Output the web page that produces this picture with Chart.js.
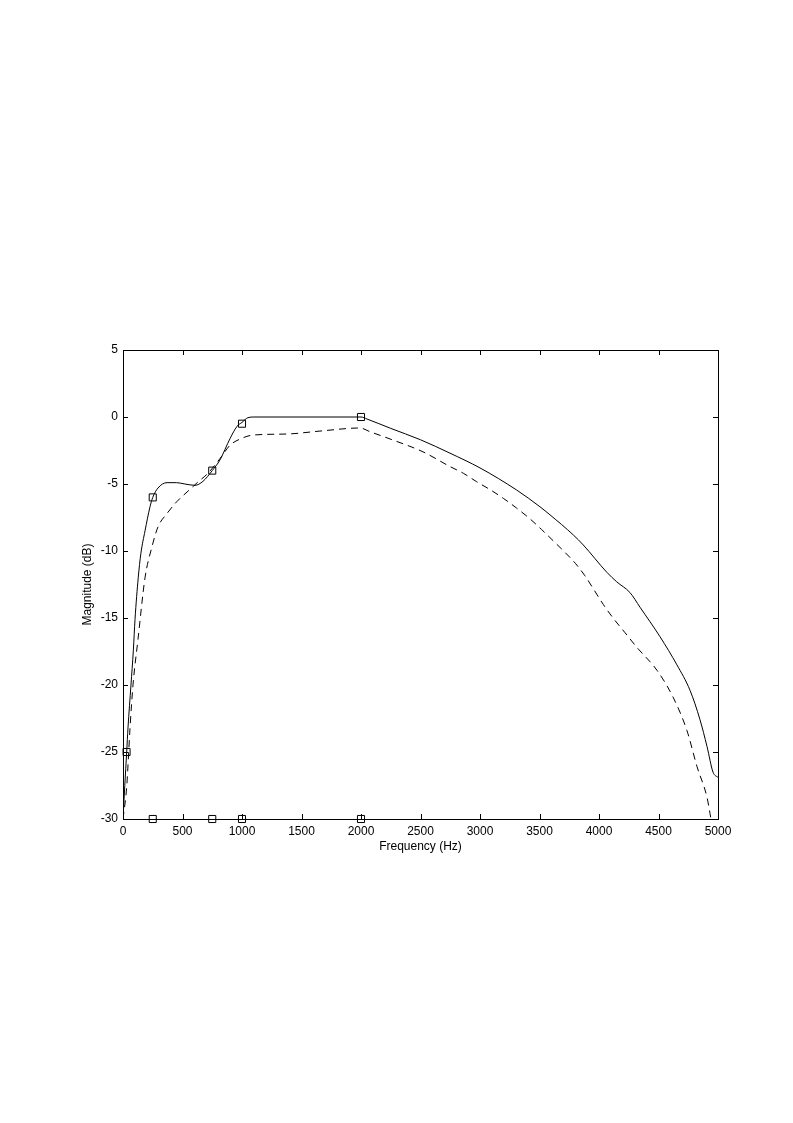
<!DOCTYPE html>
<html>
<head>
<meta charset="utf-8">
<script src="https://cdn.jsdelivr.net/npm/chart.js@4"></script>
<style>
    html, body { margin: 0; padding: 0; background: #fff; }
    #wrap { width: 793px; height: 1123px; position: relative; }
</style>
</head>
<body>
<div id="wrap"><canvas id="magChart"></canvas></div>
<script>
// Réponse en fréquence
const solidFreq = [0, 15, 31, 42, 67, 87, 101, 128, 150, 185, 227, 250, 294, 370, 450, 520, 605, 672, 750, 815, 900, 958, 1000, 1050, 1100, 2000, 2050, 2250, 2500, 2748, 3000, 3308, 3504, 3588, 3784, 3868, 4067, 4149, 4260, 4345, 4513, 4655, 4765, 4849, 4908, 4958, 5000];
const solidMag = [-30, -27.5, -25, -23.2, -20, -17.4, -15.1, -12.0, -10.2, -8.5, -6.7, -6.0, -5.3, -4.9, -4.9, -5.0, -5.1, -4.8, -4.0, -3.2, -1.6, -0.7, -0.4, -0.05, 0, 0, -0.15, -0.85, -1.7, -2.7, -3.8, -5.45, -6.7, -7.3, -8.8, -9.55, -11.6, -12.3, -13.1, -14.2, -16.4, -18.5, -20.4, -22.6, -24.6, -26.5, -26.9];

const dashFreq = [0, 31, 59, 84, 126, 185, 243, 294, 370, 454, 538, 630, 714, 815, 900, 983, 1092, 1378, 1655, 1992, 2076, 2244, 2521, 2748, 2860, 2972, 3090, 3196, 3308, 3420, 3518, 3622, 3714, 3804, 3882, 3958, 4037, 4118, 4219, 4319, 4487, 4622, 4739, 4824, 4908, 4933, 4960];
const dashMag = [-30, -27.6, -23.2, -20, -16.6, -12.0, -9.7, -8.2, -7.2, -6.3, -5.6, -4.85, -4.2, -3.1, -2.1, -1.65, -1.35, -1.27, -1.05, -0.82, -1.1, -1.64, -2.6, -3.7, -4.2, -4.83, -5.45, -6.07, -6.8, -7.6, -8.4, -9.3, -10.1, -10.95, -11.85, -12.9, -14.0, -15.0, -16.1, -17.2, -18.9, -20.9, -23.4, -26.1, -28.4, -29.6, -31];

// Points de spécification (carrés)
const markFreq = [30, 250, 750, 1000, 2000, 250, 750, 1000, 2000];
const markMag = [-25, -6, -4, -0.5, 0, -30, -30, -30, -30];

const xTicks = [0, 500, 1000, 1500, 2000, 2500, 3000, 3500, 4000, 4500, 5000];
const yTicks = [5, 0, -5, -10, -15, -20, -25, -30];

const toPoints = (xs, ys) => xs.map((x, i) => ({ x: x, y: ys[i] }));

const fontSpec = { family: "'Liberation Sans', Arial, sans-serif", size: 12 };

// Cadre et graduations vers l'intérieur (style MATLAB)
const boxTicks = {
    id: 'boxTicks',
    afterDraw(chart) {
        const ctx = chart.ctx;
        const a = chart.chartArea;
        const len = 5;
        ctx.save();
        ctx.strokeStyle = '#000';
        ctx.lineWidth = 1;
        ctx.strokeRect(Math.round(a.left) + 0.5, Math.round(a.top) + 0.5,
            Math.round(a.right - a.left), Math.round(a.bottom - a.top));
        ctx.beginPath();
        chart.scales.x.ticks.forEach(t => {
            const px = Math.round(chart.scales.x.getPixelForValue(t.value)) + 0.5;
            ctx.moveTo(px, a.bottom); ctx.lineTo(px, a.bottom - len);
            ctx.moveTo(px, a.top); ctx.lineTo(px, a.top + len);
        });
        chart.scales.y.ticks.forEach(t => {
            const py = Math.round(chart.scales.y.getPixelForValue(t.value)) + 0.5;
            ctx.moveTo(a.left, py); ctx.lineTo(a.left + len, py);
            ctx.moveTo(a.right, py); ctx.lineTo(a.right - len, py);
        });
        ctx.stroke();
        ctx.restore();
    }
};

const ctx = document.getElementById('magChart').getContext('2d');
new Chart(ctx, {
    type: 'scatter',
    data: {
        datasets: [
            {
                data: toPoints(solidFreq, solidMag),
                showLine: true,
                borderColor: '#000',
                borderWidth: 1,
                pointRadius: 0,
                cubicInterpolationMode: 'monotone'
            },
            {
                data: toPoints(dashFreq, dashMag),
                showLine: true,
                borderColor: '#000',
                borderWidth: 1,
                borderDash: [7, 5],
                pointRadius: 0,
                cubicInterpolationMode: 'monotone'
            },
            {
                data: toPoints(markFreq, markMag),
                showLine: false,
                pointStyle: 'rect',
                pointRadius: 5,
                borderColor: '#000',
                borderWidth: 1,
                backgroundColor: 'rgba(0,0,0,0)',
                clip: false
            }
        ]
    },
    options: {
        responsive: true,
        maintainAspectRatio: false,
        animation: false,
        events: [],
        layout: { padding: { left: 80, top: 350, right: 75, bottom: 269 } },
        plugins: { legend: { display: false }, tooltip: { enabled: false } },
        scales: {
            x: {
                type: 'linear',
                min: 0,
                max: 5000,
                afterBuildTicks: axis => { axis.ticks = xTicks.map(v => ({ value: v })); },
                afterFit: axis => { axis.height = 35; },
                grid: { display: false, drawTicks: false },
                border: { display: false },
                ticks: {
                    color: '#000',
                    font: fontSpec,
                    padding: 5,
                    maxRotation: 0,
                    autoSkip: false,
                    callback: v => String(v)
                },
                title: { display: true, text: 'Frequency (Hz)', color: '#000', font: fontSpec, padding: 0 }
            },
            y: {
                type: 'linear',
                min: -30,
                max: 5,
                afterBuildTicks: axis => { axis.ticks = yTicks.map(v => ({ value: v })); },
                afterFit: axis => { axis.width = 43; },
                grid: { display: false, drawTicks: false },
                border: { display: false },
                ticks: {
                    color: '#000',
                    font: fontSpec,
                    padding: 5,
                    autoSkip: false,
                    callback: v => String(v)
                },
                title: { display: true, text: 'Magnitude (dB)', color: '#000', font: fontSpec, padding: 0 }
            }
        }
    },
    plugins: [boxTicks]
});
</script>
</body>
</html>
